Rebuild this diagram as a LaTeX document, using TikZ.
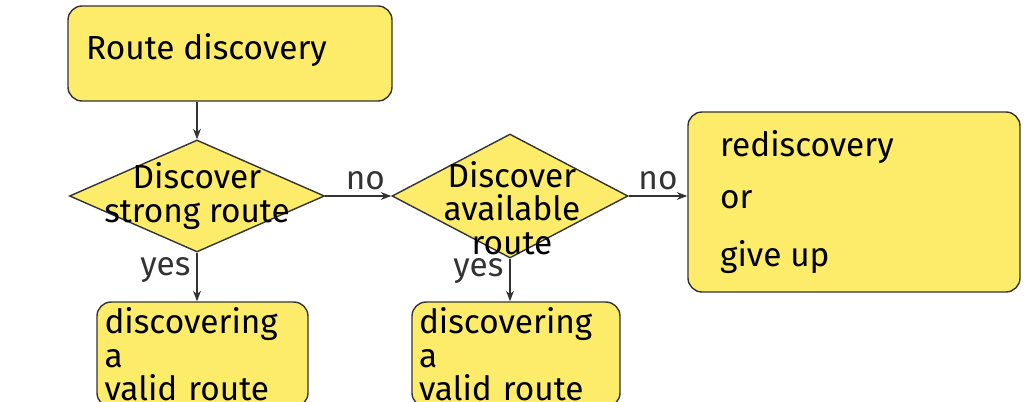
\documentclass[tikz,border=0pt]{standalone}
\usepackage{fontspec}
\setmainfont{Fira Sans}
\usetikzlibrary{arrows.meta}
\usetikzlibrary{shapes.geometric}
\definecolor{boxyellow}{HTML}{FCEC6A}
\begin{document}
\begin{tikzpicture}[x=0.02cm,y=-0.02cm,font=\fontsize{19}{19}\selectfont,
    box/.style={draw=black!80,fill=boxyellow,rounded corners=8pt,thick},
    choice/.style={diamond,draw=black!80,fill=boxyellow,thick,aspect=2.3,inner sep=0pt,align=center},
    flow/.style={-{Stealth[length=6pt]},thick,black!80}]
    \useasboundingbox (0,0) rectangle (1029,402);
    \node[box,minimum width=324*0.02cm,minimum height=95*0.02cm] (start) at (230,53.5) {};
    \node[anchor=west] (starttext) at (80,50) {Route discovery};
    \node[choice,minimum width=255*0.02cm,minimum height=112*0.02cm] (d1) at (197,196) {};
    \node[align=center] (d1text) at (d1) {Discover\\strong route};
    \node[choice,minimum width=236*0.02cm,minimum height=124*0.02cm] (d2) at (510,196) {};
    \node[align=center] (d2text) at (512,208) {Discover\\available\\route};
    \node[box,minimum width=332*0.02cm,minimum height=180*0.02cm] (redo) at (854,202) {};
    \node[anchor=west] (r1) at (714,147) {rediscovery};
    \node[anchor=west] (r2) at (714,200) {or};
    \node[anchor=west] (r3) at (714,257) {give up};
    \node[box,minimum width=211*0.02cm,minimum height=85*0.02cm,align=left,text width=196*0.02cm] (v1) at (202.5,354.5) {discovering a\\valid route};
    \node[box,minimum width=208*0.02cm,minimum height=85*0.02cm,align=left,text width=194*0.02cm] (v2) at (516,354.5) {discovering a\\valid route};
    \draw[flow] (start.south -| d1.north) -- (d1.north);
    \draw[flow] (d1.east) -- node[above,xshift=4pt] {no} (d2.west);
    \draw[flow] (d2.east) -- node[above] {no} (d2.east -| redo.west);
    \draw[flow] (d1.south) -- node[left,pos=0.35] {yes} (d1.south |- v1.north);
    \draw[flow] (d2.south) -- node[left,pos=0.3] {yes} (d2.south |- v2.north);
\end{tikzpicture}
\end{document}
